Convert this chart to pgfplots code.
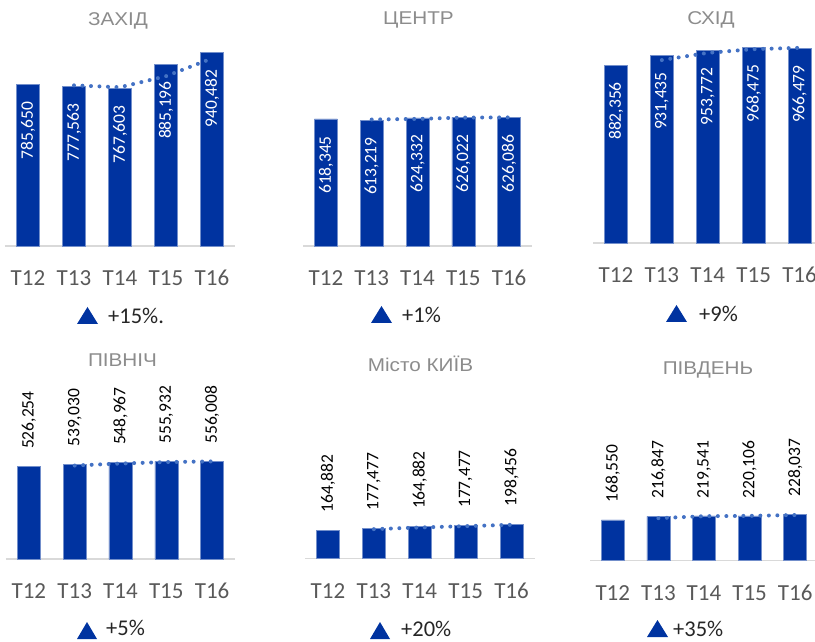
\documentclass[border=0pt]{standalone}
\usepackage{pgfplots}
\pgfplotsset{compat=1.18}
\usepackage{fontspec}
\setmainfont{Carlito}
\newfontfamily\titlefont[FakeStretch=1.12]{Liberation Sans}
\definecolor{barblue}{RGB}{0,51,160}
\definecolor{trend}{RGB}{68,114,196}
\definecolor{tickgray}{RGB}{89,89,89}
\definecolor{titlegray}{RGB}{140,140,140}
\pgfplotsset{
  panel/.style={
    scale only axis, anchor=south west,
    xmin=-0.5, xmax=4.5, ymin=0, ymax=1000000,
    axis x line=bottom, axis y line=none,
    x axis line style={-, draw=black!15, line width=1.5pt},
    xtick={0,1,2,3,4}, xticklabels={T12,T13,T14,T15,T16},
    major tick length=0pt, ytick=\empty,
    xticklabel style={font=\fontsize{23}{23}\selectfont, text=tickgray, anchor=base, yshift=-39.5pt},
    clip=false,
  },
  bars/.style={ybar, bar width=23pt, fill=barblue, draw=barblue!55!white, line width=0.5pt},
  inlabels/.style={nodes near coords, point meta=explicit symbolic,
    nodes near coords style={font=\fontsize{17.5}{17.5}\selectfont, text=white, inner sep=0pt, yshift=-17pt, rotate=90, anchor=east}},
  outlabels/.style={nodes near coords, point meta=explicit symbolic,
    nodes near coords style={font=\fontsize{17.5}{17.5}\selectfont, text=black, inner sep=0pt, yshift=17.5pt, rotate=90, anchor=west}},
  trendl/.style={trend, line width=4pt, dash pattern=on 0pt off 8.5pt, line cap=round},
}
\begin{document}
\begin{tikzpicture}
\useasboundingbox (0pt,0pt) rectangle (815pt,641pt);
\clip (0pt,0pt) rectangle (815pt,641pt);

% ---- ЗАХІД
\begin{axis}[panel, at={(5pt,395pt)}, width=230pt, height=205.5pt]
\addplot[bars, inlabels] table[x=x, y=y, meta=l] {
x y l
0 785650 785,650
1 777563 777,563
2 767603 767,603
3 885196 885,196
4 940482 940,482
};
\addplot[trendl] coordinates {(1,781606.5) (2,772583) (3,826399.5) (4,912839)};
\end{axis}

% ---- ЦЕНТР
\begin{axis}[panel, at={(303pt,395pt)}, width=229pt, height=205.4pt]
\addplot[bars, inlabels] table[x=x, y=y, meta=l] {
x y l
0 618345 618,345
1 613219 613,219
2 624332 624,332
3 626022 626,022
4 626086 626,086
};
\addplot[trendl] coordinates {(1,615782) (2,618775.5) (3,625177) (4,626054)};
\end{axis}

% ---- СХІД
\begin{axis}[panel, at={(593pt,398pt)}, width=229.5pt, height=201.7pt]
\addplot[bars, inlabels] table[x=x, y=y, meta=l] {
x y l
0 882356 882,356
1 931435 931,435
2 953772 953,772
3 968475 968,475
4 966479 966,479
};
\addplot[trendl] coordinates {(1,906895.5) (2,942603.5) (3,961123.5) (4,967477)};
\end{axis}

% ---- ПІВНІЧ
\begin{axis}[panel, at={(6pt,82pt)}, width=229pt, height=175.5pt]
\addplot[bars, outlabels] table[x=x, y=y, meta=l] {
x y l
0 526254 526,254
1 539030 539,030
2 548967 548,967
3 555932 555,932
4 556008 556,008
};
\addplot[trendl] coordinates {(1,532642) (2,543998.5) (3,552449.5) (4,555970)};
\end{axis}

% ---- Місто КИЇВ
\begin{axis}[panel, at={(305pt,82.5pt)}, width=229.5pt, height=175.5pt]
\addplot[bars, outlabels] table[x=x, y=y, meta=l] {
x y l
0 162000 164,882
1 172500 177,477
2 181000 164,882
3 188000 177,477
4 196000 198,456
};
\addplot[trendl] coordinates {(1,167250) (2,176750) (3,184500) (4,192000)};
\end{axis}

% ---- ПІВДЕНЬ
\begin{axis}[panel, at={(590pt,80.5pt)}, width=228pt, height=203pt]
\addplot[bars, outlabels] table[x=x, y=y, meta=l] {
x y l
0 200500 168,550
1 216847 216,847
2 219541 219,541
3 220106 220,106
4 228037 228,037
};
\addplot[trendl] coordinates {(1,208673.5) (2,218194) (3,219823.5) (4,224071.5)};
\end{axis}

% ---- titles
\begin{scope}[every node/.style={anchor=base, inner sep=0pt, text=titlegray, font=\titlefont\fontsize{18.5}{18.5}\selectfont}]
\node at (118pt,615.5pt) {ЗАХІД};
\node at (418.5pt,616.5pt) {ЦЕНТР};
\node at (711pt,616pt) {СХІД};
\node at (122.5pt,274pt) {ПІВНІЧ};
\node at (420.5pt,269pt) {Місто КИЇВ};
\node at (708pt,266pt) {ПІВДЕНЬ};
\end{scope}

% ---- change indicators
\begin{scope}[every node/.style={anchor=base west, inner sep=0pt, text=black!85, font=\fontsize{22.5}{22.5}\selectfont}]
\fill[barblue] (77pt,317pt) -- (98pt,317pt) -- (87.5pt,334pt) -- cycle;
\node at (108pt,317pt) {+15\%.};
\fill[barblue] (371pt,318pt) -- (392pt,318pt) -- (381.5pt,335pt) -- cycle;
\node at (402pt,318pt) {+1\%};
\fill[barblue] (666pt,319pt) -- (687pt,319pt) -- (676.5pt,336pt) -- cycle;
\node at (699pt,319pt) {+9\%};
\fill[barblue] (77pt,2pt) -- (97pt,2pt) -- (87pt,19pt) -- cycle;
\node at (106pt,6pt) {+5\%};
\fill[barblue] (370pt,2pt) -- (390pt,2pt) -- (380pt,19pt) -- cycle;
\node at (401pt,5pt) {+20\%};
\fill[barblue] (647pt,4pt) -- (668pt,4pt) -- (657.5pt,21pt) -- cycle;
\node at (673pt,5pt) {+35\%};
\end{scope}
\end{tikzpicture}
\end{document}
